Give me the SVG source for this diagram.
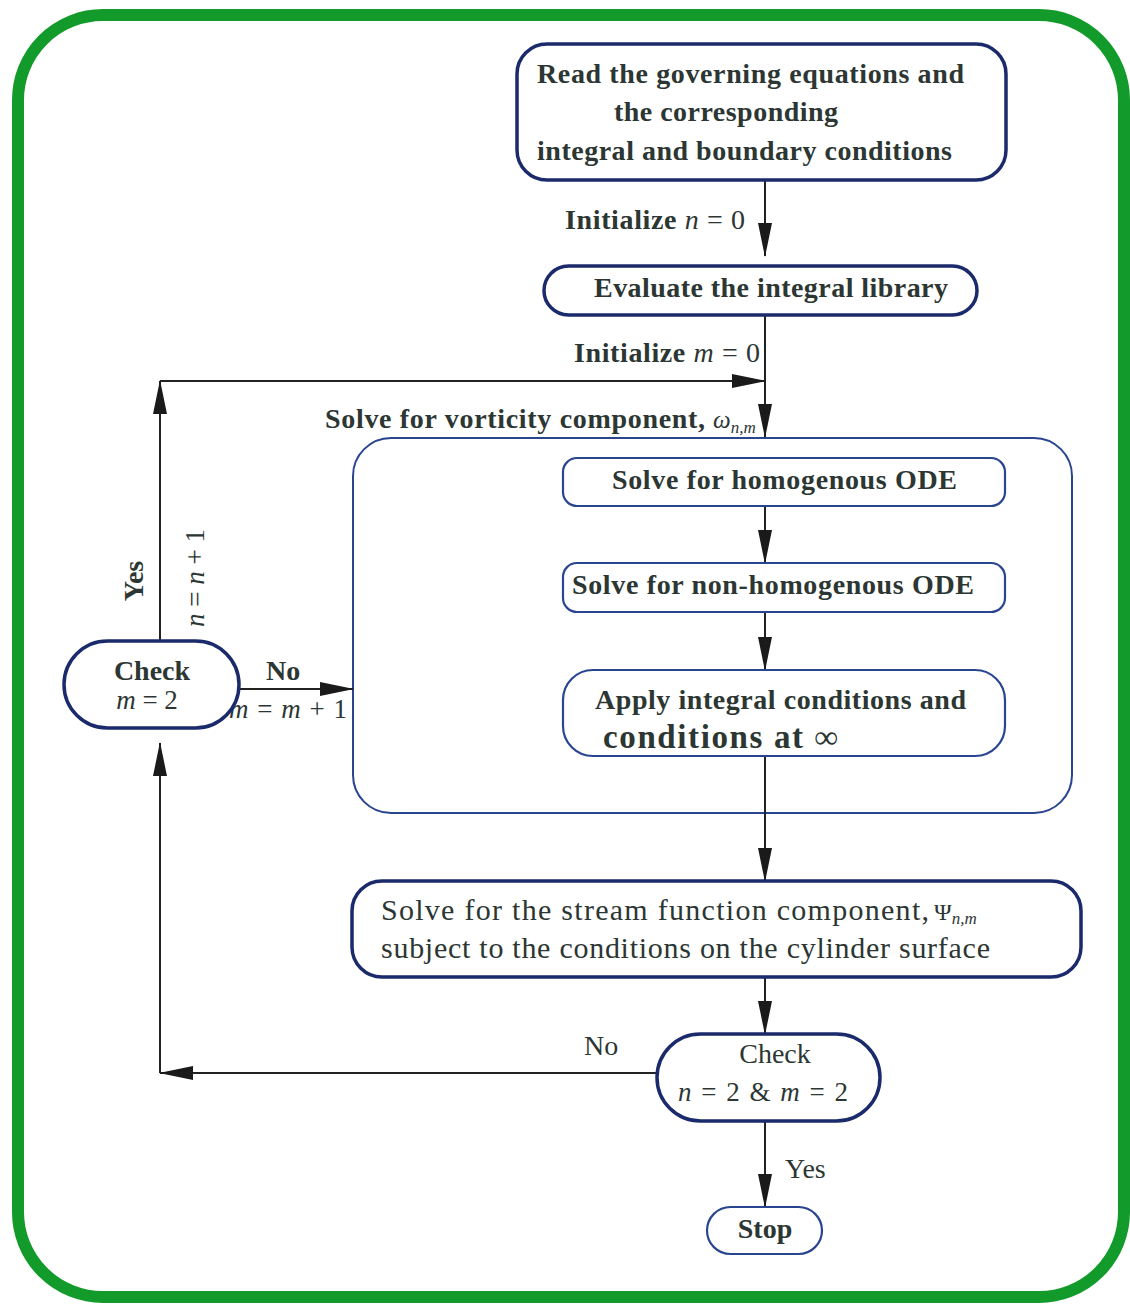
<svg xmlns="http://www.w3.org/2000/svg" width="1130" height="1305" viewBox="0 0 1130 1305">
<style>
text{font-family:"Liberation Serif","Times New Roman",serif;fill:#2c3633;}
.b{font-weight:bold;font-size:28px;}
.r{font-size:28px;}
.s{font-size:30px;}
.mi{font-style:italic;font-weight:normal;}
.mn{font-weight:normal;}
.n1{fill:#fff;stroke:#1b2a6b;stroke-width:3.5;}
.n2{fill:#fff;stroke:#2a4590;stroke-width:2.2;}
.c{fill:none;stroke:#222;stroke-width:2;}
</style>
<defs>
<marker id="ah" markerUnits="userSpaceOnUse" markerWidth="36" markerHeight="16" refX="33" refY="7" orient="auto">
<path d="M0,0 L34,7 L0,14 z" fill="#1a1a1a"/>
</marker>
</defs>
<rect x="0" y="0" width="1130" height="1305" fill="#fff"/>
<rect id="frame" x="18" y="15" width="1106" height="1282" rx="85" fill="none" stroke="#129a2a" stroke-width="12"/>

<g id="container">
<rect x="353" y="438" width="719" height="375" rx="38" fill="none" stroke="#2a4590" stroke-width="2"/>
</g>

<g id="connectors">
<path class="c" d="M765 180 V256" marker-end="url(#ah)"/>
<path class="c" d="M765 316 V437" marker-end="url(#ah)"/>
<path class="c" d="M160 641 V381" marker-end="url(#ah)"/>
<path class="c" d="M160 381 H765" marker-end="url(#ah)"/>
<path class="c" d="M238 689 H353" marker-end="url(#ah)"/>
<path class="c" d="M765 506 V563" marker-end="url(#ah)"/>
<path class="c" d="M765 612 V670" marker-end="url(#ah)"/>
<path class="c" d="M765 756 V881" marker-end="url(#ah)"/>
<path class="c" d="M765 977 V1034" marker-end="url(#ah)"/>
<path class="c" d="M765 1121 V1207" marker-end="url(#ah)"/>
<path class="c" d="M657 1073 H160" marker-end="url(#ah)"/>
<path class="c" d="M160 1073 V743" marker-end="url(#ah)"/>
<text class="b" x="565" y="229" textLength="180" lengthAdjust="spacing">Initialize <tspan class="mi">n</tspan><tspan class="mn"> = 0</tspan></text>
<text class="b" x="574" y="362" textLength="186" lengthAdjust="spacing">Initialize <tspan class="mi">m</tspan><tspan class="mn"> = 0</tspan></text>
<text class="b" x="325" y="428" textLength="380" lengthAdjust="spacing">Solve for vorticity component,</text>
<text x="713" y="428" font-size="25" font-style="italic">ω<tspan font-size="17" dy="5">n,m</tspan></text>
<text class="b" x="266" y="680">No</text>
<text x="229" y="718" font-size="27" textLength="118" lengthAdjust="spacing"><tspan class="mi">m</tspan> = <tspan class="mi">m</tspan> + 1</text>
<text class="b" transform="translate(143,581) rotate(-90)" text-anchor="middle">Yes</text>
<text transform="translate(204,578) rotate(-90)" text-anchor="middle" font-size="27"><tspan class="mi">n</tspan> = <tspan class="mi">n</tspan> + 1</text>
<text class="r" x="584" y="1055">No</text>
<text class="r" x="785" y="1178">Yes</text>
</g>

<g id="read">
<rect class="n1" x="517" y="44" width="489" height="136" rx="30"/>
<text class="b" x="537" y="83" textLength="427" lengthAdjust="spacing">Read the governing equations and</text>
<text class="b" x="614" y="121" textLength="224" lengthAdjust="spacing">the corresponding</text>
<text class="b" x="537" y="160" textLength="415" lengthAdjust="spacing">integral and boundary conditions</text>
</g>

<g id="evaluate">
<rect class="n1" x="544" y="266" width="433" height="49" rx="24.5"/>
<text class="b" x="594" y="297" textLength="354" lengthAdjust="spacing">Evaluate the integral library</text>
</g>

<g id="homog">
<rect class="n2" x="563" y="458" width="442" height="48" rx="14"/>
<text class="b" x="612" y="489" textLength="345" lengthAdjust="spacing">Solve for homogenous ODE</text>
</g>

<g id="nonhomog">
<rect class="n2" x="563" y="563" width="442" height="49" rx="14"/>
<text class="b" x="572" y="594" textLength="402" lengthAdjust="spacing">Solve for non-homogenous ODE</text>
</g>

<g id="apply">
<rect class="n2" x="563" y="670" width="442" height="86" rx="30"/>
<text class="b" x="595" y="709" textLength="371" lengthAdjust="spacing">Apply integral conditions and</text>
<text x="603" y="748" font-size="33" font-weight="bold" textLength="235" lengthAdjust="spacing">conditions at ∞</text>
</g>

<g id="stream">
<rect class="n1" x="352" y="881" width="729" height="96" rx="30"/>
<text class="s" x="381" y="920" textLength="548" lengthAdjust="spacing">Solve for the stream function component,</text>
<text x="934" y="920" font-size="24">Ψ<tspan font-size="17" font-style="italic" dy="4">n,m</tspan></text>
<text class="s" x="381" y="958" textLength="609" lengthAdjust="spacing">subject to the conditions on the cylinder surface</text>
</g>

<g id="checkm">
<rect class="n1" x="64" y="641" width="175" height="87" rx="43.5"/>
<text class="b" x="152" y="680" text-anchor="middle">Check</text>
<text x="147" y="709" font-size="27" text-anchor="middle"><tspan class="mi">m</tspan> = 2</text>
</g>

<g id="checknm">
<rect class="n1" x="657" y="1034" width="223" height="87" rx="43.5"/>
<text class="r" x="775" y="1063" text-anchor="middle">Check</text>
<text x="678" y="1101" font-size="27" textLength="170" lengthAdjust="spacing"><tspan class="mi">n</tspan> = 2 &amp; <tspan class="mi">m</tspan> = 2</text>
</g>

<g id="stop">
<rect class="n2" x="707" y="1207" width="115" height="47" rx="23.5"/>
<text class="b" x="765" y="1238" text-anchor="middle">Stop</text>
</g>
</svg>
